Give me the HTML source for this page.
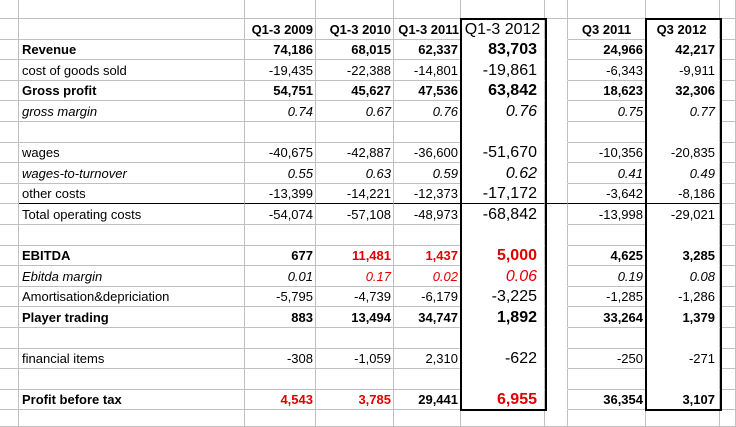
<!DOCTYPE html>
<html><head><meta charset="utf-8"><style>
html,body{margin:0;padding:0;background:#fff;width:736px;height:427px;overflow:hidden;position:relative}
.t{position:absolute;left:0;top:0;width:736px;font-family:"Liberation Sans",Arial,sans-serif;font-size:13px;color:#000}
.r{display:grid;grid-template-columns:19px 226px 71px 78px 67px 84px 23px 78px 74px 16px;height:20.6px}
.r0{height:19px}
.r>div{border-right:1px solid #c0c0c0;border-bottom:1px solid #c0c0c0;box-sizing:border-box;padding:0 2px 2px 2px;white-space:nowrap;overflow:visible;display:flex;align-items:flex-end;justify-content:flex-end;line-height:15px}
.r>div.l{justify-content:flex-start;padding-left:3px}
.r>div.c{justify-content:center}
.r>div.bx{border-bottom-color:transparent;font-size:16px;padding-right:7px;padding-bottom:1px;line-height:18px}
.bx span{position:relative;top:1px}
.r>div.g{border-bottom-color:transparent}
.r>div.q{border-bottom-color:transparent;padding-right:4px}
.tl>div{border-bottom-color:#000 !important}
.tl>div:first-child,.tl>div:last-child{border-bottom-color:#c0c0c0 !important}
.b{font-weight:bold}.i{font-style:italic}.red{color:#e00000}
.last{height:17px}
.box{position:absolute;border:2px solid #000;box-sizing:border-box}
</style></head><body>
<div class="t">
<div class="r r0"><div></div><div></div><div></div><div></div><div></div><div class="bx"></div><div></div><div></div><div class="q"></div><div></div></div>
<div class="r b"><div></div><div></div><div>Q1-3 2009</div><div>Q1-3 2010</div><div style="padding-left:1px;padding-right:1px">Q1-3 2011</div><div class="bx c" style="font-weight:normal;padding-left:0;padding-right:0"><span>Q1-3 2012</span></div><div class="g"></div><div class="c">Q3 2011</div><div class="q c">Q3 2012</div><div></div></div>
<div class="r b"><div></div><div class="l">Revenue</div><div>74,186</div><div>68,015</div><div>62,337</div><div class="bx"><span>83,703</span></div><div class="g"></div><div>24,966</div><div class="q">42,217</div><div></div></div>
<div class="r"><div></div><div class="l">cost of goods sold</div><div>-19,435</div><div>-22,388</div><div>-14,801</div><div class="bx"><span>-19,861</span></div><div class="g"></div><div>-6,343</div><div class="q">-9,911</div><div></div></div>
<div class="r b"><div></div><div class="l">Gross profit</div><div>54,751</div><div>45,627</div><div>47,536</div><div class="bx"><span>63,842</span></div><div class="g"></div><div>18,623</div><div class="q">32,306</div><div></div></div>
<div class="r i"><div></div><div class="l">gross margin</div><div>0.74</div><div>0.67</div><div>0.76</div><div class="bx"><span>0.76</span></div><div class="g"></div><div>0.75</div><div class="q">0.77</div><div></div></div>
<div class="r"><div></div><div></div><div></div><div></div><div></div><div class="bx"></div><div class="g"></div><div></div><div class="q"></div><div></div></div>
<div class="r"><div></div><div class="l">wages</div><div>-40,675</div><div>-42,887</div><div>-36,600</div><div class="bx"><span>-51,670</span></div><div class="g"></div><div>-10,356</div><div class="q">-20,835</div><div></div></div>
<div class="r i"><div></div><div class="l">wages-to-turnover</div><div>0.55</div><div>0.63</div><div>0.59</div><div class="bx"><span>0.62</span></div><div class="g"></div><div>0.41</div><div class="q">0.49</div><div></div></div>
<div class="r tl"><div></div><div class="l">other costs</div><div>-13,399</div><div>-14,221</div><div>-12,373</div><div class="bx"><span>-17,172</span></div><div class="g"></div><div>-3,642</div><div class="q">-8,186</div><div></div></div>
<div class="r"><div></div><div class="l">Total operating costs</div><div>-54,074</div><div>-57,108</div><div>-48,973</div><div class="bx"><span>-68,842</span></div><div class="g"></div><div>-13,998</div><div class="q">-29,021</div><div></div></div>
<div class="r"><div></div><div></div><div></div><div></div><div></div><div class="bx"></div><div class="g"></div><div></div><div class="q"></div><div></div></div>
<div class="r b"><div></div><div class="l">EBITDA</div><div>677</div><div class="red">11,481</div><div class="red">1,437</div><div class="bx red"><span>5,000</span></div><div class="g"></div><div>4,625</div><div class="q">3,285</div><div></div></div>
<div class="r i"><div></div><div class="l">Ebitda margin</div><div>0.01</div><div class="red">0.17</div><div class="red">0.02</div><div class="bx red"><span>0.06</span></div><div class="g"></div><div>0.19</div><div class="q">0.08</div><div></div></div>
<div class="r"><div></div><div class="l">Amortisation&amp;depriciation</div><div>-5,795</div><div>-4,739</div><div>-6,179</div><div class="bx"><span>-3,225</span></div><div class="g"></div><div>-1,285</div><div class="q">-1,286</div><div></div></div>
<div class="r b"><div></div><div class="l">Player trading</div><div>883</div><div>13,494</div><div>34,747</div><div class="bx"><span>1,892</span></div><div class="g"></div><div>33,264</div><div class="q">1,379</div><div></div></div>
<div class="r"><div></div><div></div><div></div><div></div><div></div><div class="bx"></div><div class="g"></div><div></div><div class="q"></div><div></div></div>
<div class="r"><div></div><div class="l">financial items</div><div>-308</div><div>-1,059</div><div>2,310</div><div class="bx"><span>-622</span></div><div class="g"></div><div>-250</div><div class="q">-271</div><div></div></div>
<div class="r"><div></div><div></div><div></div><div></div><div></div><div class="bx"></div><div class="g"></div><div></div><div class="q"></div><div></div></div>
<div class="r b"><div></div><div class="l">Profit before tax</div><div class="red">4,543</div><div class="red">3,785</div><div>29,441</div><div class="bx red"><span>6,955</span></div><div class="g"></div><div>36,354</div><div class="q">3,107</div><div></div></div>
<div class="r last"><div></div><div></div><div></div><div></div><div></div><div></div><div></div><div></div><div></div><div></div></div>
</div>
<div class="box" style="left:460px;top:18px;width:87px;height:393px"></div>
<div class="box" style="left:645px;top:18px;width:77px;height:393px"></div>
</body></html>
